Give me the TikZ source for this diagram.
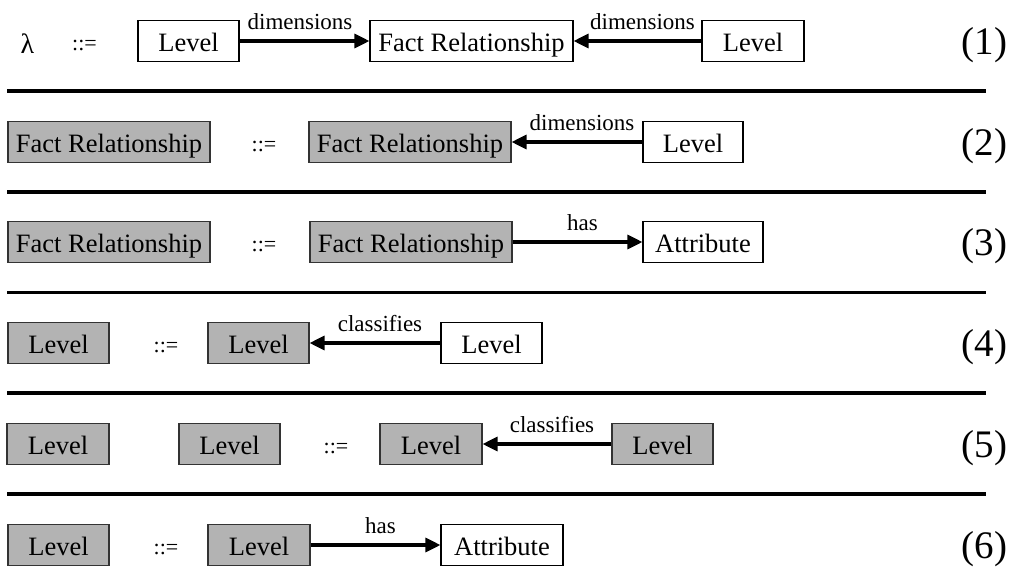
\documentclass[tikz,border=0pt]{standalone}
\usepackage{fontspec}
\setmainfont{Liberation Serif}
\usetikzlibrary{arrows.meta}
\definecolor{boxgray}{RGB}{179,179,179}
\tikzset{
 box/.style={line width=1.1pt, minimum height=41pt, inner sep=0pt, text height=20pt, text depth=0pt, font=\fontsize{26.5pt}{30pt}\selectfont},
 wbox/.style={box, draw=black, fill=white},
 gbox/.style={box, fill=boxgray, draw=black!80},
 arr/.style={line width=3.2pt, -{Triangle[length=15pt,width=14pt]}},
 lbl/.style={font=\fontsize{23pt}{26pt}\selectfont, anchor=base, inner sep=0pt, yshift=12pt, xshift=5pt},
 op/.style={font=\fontsize{22pt}{26pt}\selectfont, anchor=base, inner sep=0pt},
 num/.style={font=\fontsize{39pt}{44pt}\selectfont, anchor=base, inner sep=0pt},
 sep/.style={line width=3.6pt},
}
\begin{document}
\begin{tikzpicture}[x=1pt,y=-1pt]
\useasboundingbox[fill=white] (0,0) rectangle (1013,568);
% separators
\foreach \yy in {91,192,292.5,393,494}{\draw[sep] (7,\yy) -- (986,\yy);}
% Row 1
\node[op, font=\fontsize{28pt}{32pt}\selectfont] (lam) at (27.5,53) {λ};
\node[op] (op1) at (84.5,50) {::=};
\node[wbox, minimum width=101pt] (r1a) at (188.5,41) {Level};
\node[wbox, minimum width=203pt] (r1b) at (471.5,41) {Fact Relationship};
\node[wbox, minimum width=102pt] (r1c) at (753,41) {Level};
\draw[arr] (r1a.east) -- node[lbl, xshift=-9.5pt] {dimensions} (r1b.west);
\draw[arr] (r1c.west) -- node[lbl] {dimensions} (r1b.east);
\node[num] (n1) at (984.5,54) {(1)};
% Row 2
\node[gbox, minimum width=202pt] (r2a) at (109,142) {Fact Relationship};
\node[op] (op2) at (264,151) {::=};
\node[gbox, minimum width=202pt] (r2b) at (410,142) {Fact Relationship};
\node[wbox, minimum width=100pt] (r2c) at (693,142) {Level};
\draw[arr] (r2c.west) -- node[lbl] {dimensions} (r2b.east);
\node[num] (n2) at (984.5,155) {(2)};
% Row 3
\node[gbox, minimum width=202pt] (r3a) at (109,242) {Fact Relationship};
\node[op] (op3) at (264,251) {::=};
\node[gbox, minimum width=202pt] (r3b) at (411,242) {Fact Relationship};
\node[wbox, minimum width=120pt] (r3c) at (703,242) {Attribute};
\draw[arr] (r3b.east) -- node[lbl] {has} (r3c.west);
\node[num] (n3) at (984.5,255) {(3)};
% Row 4
\node[gbox, minimum width=101pt] (r4a) at (58.5,343) {Level};
\node[op] (op4) at (166,352) {::=};
\node[gbox, minimum width=101pt] (r4b) at (258.5,343) {Level};
\node[wbox, minimum width=101pt] (r4c) at (491.5,343) {Level};
\draw[arr] (r4c.west) -- node[lbl] {classifies} (r4b.east);
\node[num] (n4) at (984.5,356) {(4)};
% Row 5
\node[gbox, minimum width=102pt] (r5a) at (58,444) {Level};
\node[gbox, minimum width=101pt] (r5b) at (229.5,444) {Level};
\node[op] (op5) at (336,453) {::=};
\node[gbox, minimum width=102pt] (r5c) at (431,444) {Level};
\node[gbox, minimum width=101pt] (r5d) at (662.5,444) {Level};
\draw[arr] (r5d.west) -- node[lbl] {classifies} (r5c.east);
\node[num] (n5) at (984.5,457) {(5)};
% Row 6
\node[gbox, minimum width=101pt] (r6a) at (58.5,545) {Level};
\node[op] (op6) at (166,554) {::=};
\node[gbox, minimum width=102pt] (r6b) at (259,545) {Level};
\node[wbox, minimum width=122pt] (r6c) at (502,545) {Attribute};
\draw[arr] (r6b.east) -- node[lbl] {has} (r6c.west);
\node[num] (n6) at (984.5,558) {(6)};
\end{tikzpicture}
\end{document}
